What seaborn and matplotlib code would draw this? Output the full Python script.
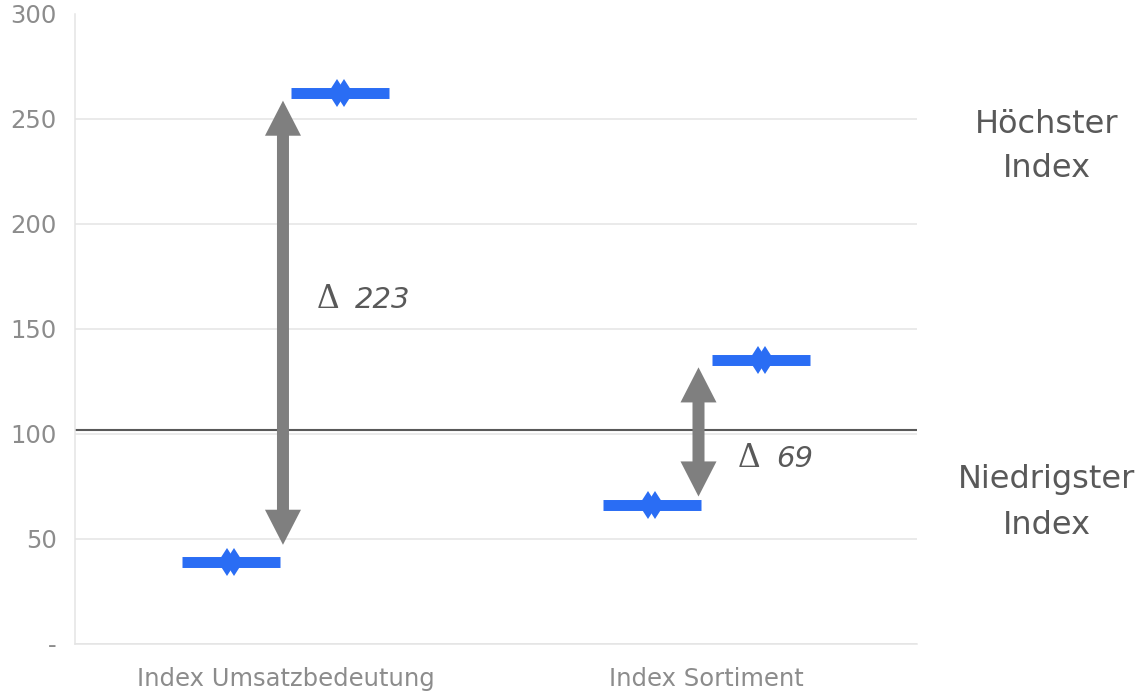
import matplotlib
matplotlib.use("Agg")
import matplotlib.pyplot as plt
from matplotlib.patches import FancyArrow
import numpy as np
import pandas as pd
import seaborn as sns

# --- data -------------------------------------------------------------
categories = ["Index Umsatzbedeutung", "Index Sortiment"]
lowest = [39, 66]
highest = [262, 135]
reference_level = 101.5
y_ticks = [0, 50, 100, 150, 200, 250, 300]
y_tick_labels = ["-", "50", "100", "150", "200", "250", "300"]
side_labels = [["Höchster", "Index"], ["Niedrigster", "Index"]]

# --- styling ----------------------------------------------------------
BLUE = "#2A6DF4"
ARROW_GREY = "#7F7F7F"
DARK = "#595959"
TICK_GREY = "#8C8C8C"
GRID = "#E4E4E4"

sns.set_theme(style="white")
plt.rcParams["font.family"] = ["DejaVu Sans"]

df = pd.DataFrame({
    "Kategorie": categories * 2,
    "Kennzahl": ["Niedrigster Index"] * len(categories) + ["Höchster Index"] * len(categories),
    "Wert": lowest + highest,
})
hue_order = ["Niedrigster Index", "Höchster Index"]

W, H = 1142, 693
fig = plt.figure(figsize=(W / 100, H / 100), dpi=100)
ax = fig.add_axes([75 / W, 1 - 643.5 / H, (917 - 75) / W, (643.5 - 13.5) / H])

# horizontal bars for lowest / highest index
sns.pointplot(data=df, x="Kategorie", y="Wert", hue="Kennzahl", hue_order=hue_order,
              palette=[BLUE, BLUE], dodge=0.26, markers="_", linestyle="none",
              errorbar=None, markersize=70.5, markeredgewidth=7.9, legend=False, ax=ax)
# twin diamond markers on each bar
for dg in (0.276, 0.244):
    sns.pointplot(data=df, x="Kategorie", y="Wert", hue="Kennzahl", hue_order=hue_order,
                  palette=[BLUE, BLUE], dodge=dg, markers="d", linestyle="none",
                  errorbar=None, markersize=14.5, markeredgewidth=0, legend=False, ax=ax)

# axes cosmetics
ax.set_ylim(0, 300)
ax.set_yticks(y_ticks)
ax.set_yticklabels(y_tick_labels)
ax.set_xlabel("")
ax.set_ylabel("")
ax.tick_params(axis="y", length=0, pad=13, labelsize=17.5, labelcolor=TICK_GREY)
ax.tick_params(axis="x", length=0, pad=17, labelsize=17.5, labelcolor=TICK_GREY)
ax.grid(axis="y", color=GRID, linewidth=1.1, zorder=0)
ax.grid(axis="x", visible=False)
ax.set_axisbelow(True)
for side in ("top", "right"):
    ax.spines[side].set_visible(False)
for side in ("left", "bottom"):
    ax.spines[side].set_color(GRID)
    ax.spines[side].set_linewidth(1.1)
gl = ax.yaxis.get_gridlines()
gl[-1].set_visible(False)

ax.axhline(reference_level, color=DARK, linewidth=1.5, zorder=1)

# double-headed span arrows with delta labels:
# one full-length arrow pointing up, plus a lower head whose thin stub hides in the shaft
arrow_shift = [-0.006, -0.019]
gap_low = [8, 4]
gap_high = 3.5
label_y = [160, 84]
shaft_w, head_w, head_len = 0.0285, 0.0855, 16.7
for i in range(len(categories)):
    x = i + arrow_shift[i]
    y0 = lowest[i] + gap_low[i]
    y1 = highest[i] - gap_high
    ax.add_patch(FancyArrow(x, y0 + head_len * 0.5, 0, y1 - (y0 + head_len * 0.5),
                            width=shaft_w, head_width=head_w, head_length=head_len,
                            length_includes_head=True, color=ARROW_GREY, linewidth=0,
                            zorder=2))
    ax.add_patch(FancyArrow(x, y0 + head_len * 1.5, 0, -head_len * 1.5,
                            width=shaft_w * 0.5, head_width=head_w, head_length=head_len,
                            length_includes_head=True, color=ARROW_GREY, linewidth=0,
                            zorder=2))
    delta = highest[i] - lowest[i]
    ax.annotate("Δ", xy=(i + 0.075, label_y[i]), ha="left", va="baseline",
                fontsize=25, color=DARK, family=["Liberation Serif", "DejaVu Serif"])
    ax.annotate(str(delta), xy=(i + 0.075, label_y[i]), xytext=(38, 0),
                textcoords="offset pixels", ha="left", va="baseline",
                fontsize=21, fontstyle="italic", color=DARK)

# side captions
for lines, baselines in zip(side_labels, [(133, 177), (488, 534)]):
    for txt, yb in zip(lines, baselines):
        fig.text(1047 / W, 1 - yb / H, txt, ha="center", va="baseline",
                 fontsize=23, color=DARK)

fig.savefig("out.png", dpi=100)
